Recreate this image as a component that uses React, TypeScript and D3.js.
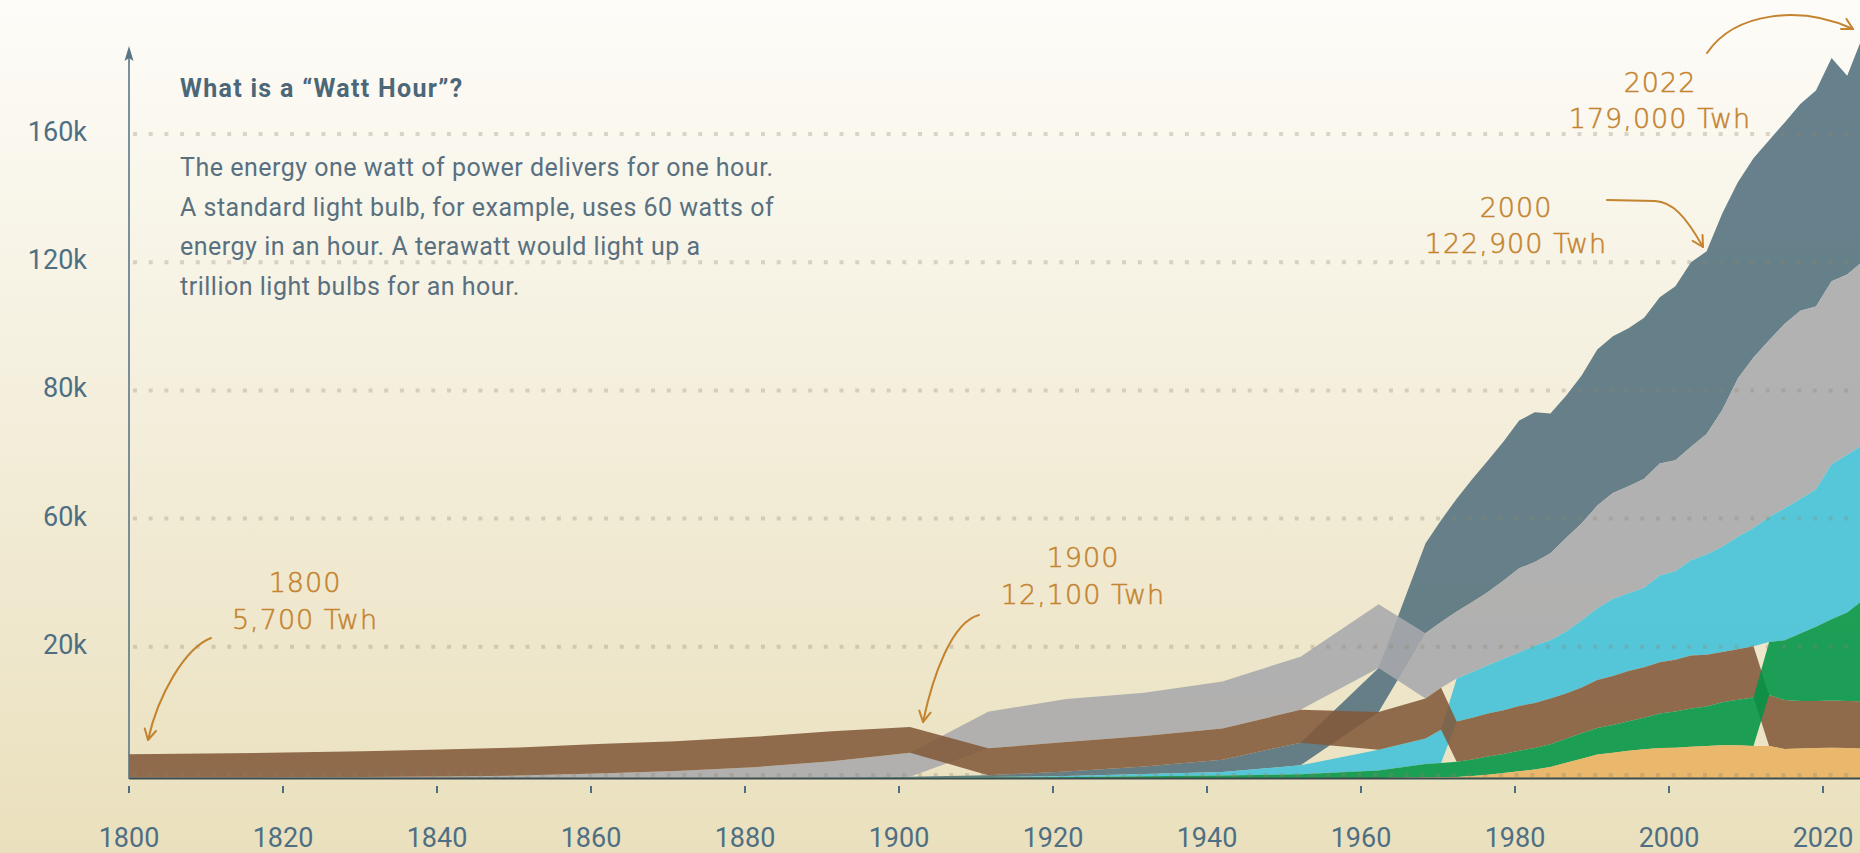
import React from 'react';
import * as d3 from 'd3';

// ---- Data (TWh) ----
const years = [1800, 1810, 1820, 1830, 1840, 1850, 1860, 1870, 1880, 1890, 1900, 1910, 1920, 1930, 1940, 1950, 1960,
  1966, 1968, 1970, 1972, 1974, 1976, 1978, 1980, 1982, 1984, 1986, 1988, 1990, 1992, 1994, 1996, 1998, 2000,
  2002, 2004, 2006, 2008, 2010, 2012, 2014, 2016, 2018, 2020, 2022];

const oil = [0, 0, 0, 0, 0, 0, 0, 6, 33, 90, 180, 400, 1100, 1800, 2900, 5400, 10400,
  21300, 24200, 26800, 29200, 31200, 33000, 35100, 35600, 33200, 33800, 35100, 37100, 37200, 37500, 38200, 39500,
  41300, 43800, 43400, 46700, 46600, 47300, 47500, 47800, 49100, 51300, 53000, 47200, 53500];

const coal = [100, 130, 150, 260, 360, 570, 1060, 1640, 2540, 3860, 5730, 8700, 10200, 10300, 11200, 12600, 15200,
  15500, 15600, 15900, 16600, 17400, 18600, 20000, 19800, 20700, 22200, 23100, 24400, 25200, 25400, 25900, 26600,
  26400, 27000, 28600, 32500, 37600, 40500, 42000, 43800, 44700, 43400, 43500, 42800, 43500];

const gas = [0, 0, 0, 0, 0, 0, 0, 0, 0, 30, 60, 150, 250, 550, 850, 2100, 4900,
  6100, 7900, 10200, 10900, 11500, 12200, 12700, 13700, 13800, 14700, 15900, 17000, 18300, 18500, 18900, 20600,
  21000, 22600, 23800, 25000, 26700, 28100, 29700, 31400, 32000, 32700, 36800, 37500, 37000];

const biomass = [5560, 5700, 5900, 6100, 6400, 6700, 7000, 7100, 7200, 7100, 6110, 6400, 7000, 7200, 7400, 7800, 9000,
  9500, 10000, 9600, 9900, 10200, 10400, 10600, 10700, 10900, 10800, 10900, 11400, 11600, 11900, 12000, 12200,
  12300, 12600, 12300, 11900, 12000, 12200, 12100, 11600, 11300, 11200, 11200, 11200, 11200];

const renewables = [0, 0, 0, 0, 0, 0, 0, 0, 0, 0, 50, 100, 200, 400, 600, 900, 1800,
  3200, 3400, 3600, 3900, 4300, 4500, 4900, 5100, 5400, 5700, 6000, 6300, 6600, 7000, 7500, 8200,
  8600, 9100, 9400, 10200, 10800, 11500, 12600, 14200, 16000, 17600, 19300, 21000, 24000];

const nuclear = [0, 0, 0, 0, 0, 0, 0, 0, 0, 0, 0, 0, 0, 0, 0, 0, 0,
  100, 150, 250, 500, 800, 1200, 1600, 2000, 2600, 3600, 4600, 5600, 6000, 6500, 6800, 7100,
  7200, 7400, 7600, 7800, 7800, 7600, 7600, 6900, 7000, 7100, 7200, 7100, 7000];

// drawing order (bottom layer first)
const seriesNames = ['oil', 'coal', 'gas', 'biomass', 'renewables', 'nuclear'];
const seriesValues = [oil, coal, gas, biomass, renewables, nuclear];
const seriesColors = ['#526f7d', '#a8a8ac', '#40c1da', '#82593a', '#009445', '#e8b260'];

const xTickYears = [1800, 1820, 1840, 1860, 1880, 1900, 1920, 1940, 1960, 1980, 2000, 2020];
const gridValues = [0, 32000, 64000, 96000, 128000, 160000];
const gridLabels = ['', '20k', '60k', '80k', '120k', '160k'];

const titleText = 'What is a \u201CWatt Hour\u201D?';
const bodyLines = [
  'The energy one watt of power delivers for one hour.',
  'A standard light bulb, for example, uses 60 watts of',
  'energy in an hour. A terawatt would light up a',
  'trillion light bulbs for an hour.',
];

const annotations = [
  { year: '1800', value: '5,700 Twh' },
  { year: '1900', value: '12,100 Twh' },
  { year: '2000', value: '122,900 Twh' },
  { year: '2022', value: '179,000 Twh' },
];

function arrowHead(tx: number, ty: number, fx: number, fy: number, len = 12, spread = 0.5) {
  const ang = Math.atan2(ty - fy, tx - fx);
  const a1 = ang + Math.PI - spread;
  const a2 = ang + Math.PI + spread;
  return `M${tx + len * Math.cos(a1)},${ty + len * Math.sin(a1)} L${tx},${ty} L${tx + len * Math.cos(a2)},${ty + len * Math.sin(a2)}`;
}

export default function App() {
  const W = 1860, H = 853;
  const xData = d3.scaleLinear().domain([1800, 2022]).range([129, 129 + 222 * 7.81]);
  const yData = d3.scaleLinear().domain([0, 100000]).range([778, 778 - 421]);
  const xAxis = d3.scaleLinear().domain([1800, 2020]).range([129, 1823]);
  const yAxis = d3.scaleLinear().domain([0, 160000]).range([775, 134]);

  // per-year ascending stacking
  const stacked: [number, number][][] = seriesValues.map(() => years.map(() => [0, 0] as [number, number]));
  years.forEach((_, i) => {
    const order = seriesValues.map((_, k) => k).sort((a, b) => seriesValues[a][i] - seriesValues[b][i]);
    let acc = 0;
    order.forEach((k) => {
      const v = seriesValues[k][i];
      stacked[k][i] = [acc, acc + v];
      acc += v;
    });
  });

  const areaPaths = stacked.map((st) =>
    d3.area<[number, number]>()
      .x((_, i) => xData(years[i]))
      .y0((d) => yData(d[0]))
      .y1((d) => yData(d[1]))
      .curve(d3.curveLinear)(st) as string
  );

  const labelFont = 'Roboto, "Noto Sans", sans-serif';
  const axisColor = '#4e6f83';
  const annColor = '#c4832f';
  const handFont = '"DejaVu Sans", sans-serif';

  const annPos = [
    { x: 305, y1: 592, y2: 629 },
    { x: 1083, y1: 567, y2: 604 },
    { x: 1516, y1: 217, y2: 253 },
    { x: 1660, y1: 92, y2: 128 },
  ];

  const arrows = [
    { d: 'M211,638 C185,648 158,695 148,740', tip: [148, 740], from: [156, 705] },
    { d: 'M979,615 C952,622 933,675 923,722', tip: [923, 722], from: [929, 690] },
    { d: 'M1607,200 L1655,201 C1672,202 1685,215 1703,247', tip: [1703, 247], from: [1688, 222] },
    { d: 'M1707,53 C1735,12 1800,5 1853,29', tip: [1853, 29], from: [1825, 14] },
  ];

  return (
    <div style={{ position: 'absolute', left: 0, top: 0, width: W, height: H, overflow: 'hidden' }}>
      <svg width={W} height={H} style={{ display: 'block' }}>
        <defs>
          <linearGradient id="bg" x1="0" y1="0" x2="0" y2="1">
            <stop offset="0%" stopColor="#fdfcf8" />
            <stop offset="100%" stopColor="#eae0bd" />
          </linearGradient>
        </defs>
        <rect x={0} y={0} width={W} height={H} fill="url(#bg)" />

        {/* stacked ribbons */}
        {areaPaths.map((d, k) => (
          <path key={seriesNames[k]} d={d} fill={seriesColors[k]} fillOpacity={0.88} />
        ))}

        {/* dotted grid lines */}
        {gridValues.map((v) => (
          <line key={'g' + v} x1={133} x2={W} y1={yAxis(v)} y2={yAxis(v)}
            stroke="rgba(140,132,110,0.3)" strokeWidth={4} strokeDasharray="4 11.7" />
        ))}

        {/* baseline */}
        <line x1={129} x2={W} y1={778.5} y2={778.5} stroke="#3d4c4f" strokeWidth={2} />

        {/* y axis with arrow */}
        <line x1={129} x2={129} y1={779} y2={54} stroke="#5b7686" strokeWidth={1.6} />
        <path d="M129,46 L133.5,61 L129,58 L124.5,61 Z" fill="#5b7686" />

        {/* y labels */}
        {gridValues.map((v, i) => gridLabels[i] ? (
          <text key={'yl' + v} x={87} y={yAxis(v) - 2} textAnchor="end" dominantBaseline="central"
            fontFamily={labelFont} fontSize={27} fill={axisColor}>{gridLabels[i]}</text>
        ) : null)}

        {/* x ticks and labels */}
        {xTickYears.map((yr) => (
          <g key={'xt' + yr}>
            <line x1={xAxis(yr)} x2={xAxis(yr)} y1={786} y2={793} stroke={axisColor} strokeWidth={2} />
            <text x={xAxis(yr)} y={847} textAnchor="middle" fontFamily={labelFont} fontSize={27} fill={axisColor}>{yr}</text>
          </g>
        ))}

        {/* explanation text */}
        <text x={180} y={97} fontFamily={labelFont} fontSize={25} fontWeight={700} letterSpacing={1.3} fill="#4c6778">{titleText}</text>
        {bodyLines.map((t, i) => (
          <text key={'b' + i} x={180} y={176 + i * 39.5} fontFamily={labelFont} fontSize={25} letterSpacing={0.5} fill="#587080">{t}</text>
        ))}

        {/* annotations */}
        {annotations.map((a, i) => (
          <g key={'a' + i} fontFamily={handFont} fontWeight={200} fill={annColor} stroke={annColor} strokeWidth={0.5}
            textAnchor="middle" fontSize={27}>
            <text x={annPos[i].x} y={annPos[i].y1} letterSpacing={1}>{a.year}</text>
            <text x={annPos[i].x} y={annPos[i].y2} letterSpacing={1}>{a.value}</text>
          </g>
        ))}
        {arrows.map((a, i) => (
          <g key={'ar' + i} fill="none" stroke={annColor} strokeWidth={2} strokeLinecap="round" strokeLinejoin="round">
            <path d={a.d} />
            <path d={arrowHead(a.tip[0], a.tip[1], a.from[0], a.from[1])} />
          </g>
        ))}
      </svg>
    </div>
  );
}
